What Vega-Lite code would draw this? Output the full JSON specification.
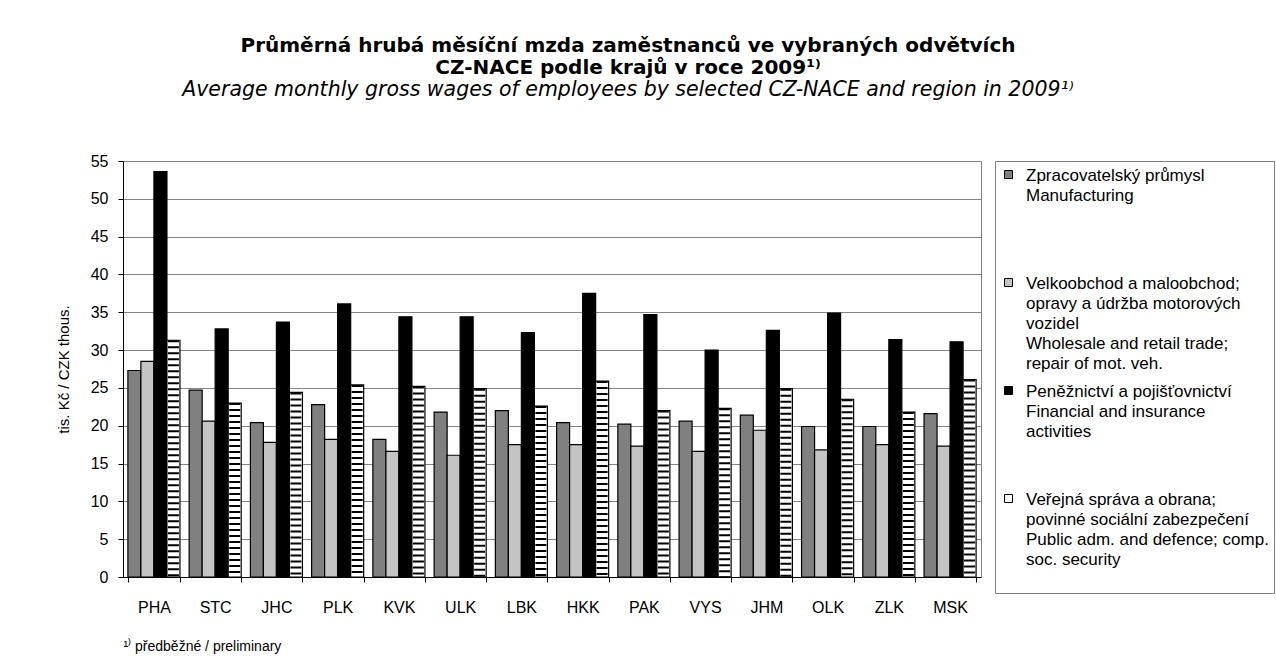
{
  "$schema": "https://vega.github.io/schema/vega-lite/v6.json",
  "width": 858,
  "height": 416,
  "autosize": "none",
  "padding": {"left": 123, "top": 161, "right": 295, "bottom": 80},
  "background": "white",
  "config": {
    "font": "Liberation Sans",
    "view": {"stroke": "#808080", "strokeWidth": 1}
  },
  "title": {
    "text": ["Průměrná hrubá měsíční mzda zaměstnanců ve vybraných odvětvích", "CZ-NACE podle krajů v roce 2009¹⁾"],
    "subtitle": "Average monthly gross wages of employees by selected CZ-NACE and region in 2009¹⁾",
    "anchor": "middle",
    "frame": "group",
    "dx": 76,
    "offset": 53,
    "font": "DejaVu Sans",
    "fontSize": 20,
    "fontWeight": "bold",
    "lineHeight": 22,
    "color": "black",
    "subtitleFont": "DejaVu Sans",
    "subtitleFontSize": 20.5,
    "subtitleFontStyle": "italic",
    "subtitleColor": "black",
    "subtitlePadding": 2,
    "subtitleLineHeight": 21
  },
  "data": {
    "values": [
      {"region": "PHA", "sector": "M", "value": 27.3}, {"region": "PHA", "sector": "W", "value": 28.5}, {"region": "PHA", "sector": "F", "value": 53.6}, {"region": "PHA", "sector": "P", "value": 31.3},
      {"region": "STC", "sector": "M", "value": 24.7}, {"region": "STC", "sector": "W", "value": 20.6}, {"region": "STC", "sector": "F", "value": 32.8}, {"region": "STC", "sector": "P", "value": 23.0},
      {"region": "JHC", "sector": "M", "value": 20.4}, {"region": "JHC", "sector": "W", "value": 17.8}, {"region": "JHC", "sector": "F", "value": 33.7}, {"region": "JHC", "sector": "P", "value": 24.4},
      {"region": "PLK", "sector": "M", "value": 22.8}, {"region": "PLK", "sector": "W", "value": 18.2}, {"region": "PLK", "sector": "F", "value": 36.1}, {"region": "PLK", "sector": "P", "value": 25.4},
      {"region": "KVK", "sector": "M", "value": 18.2}, {"region": "KVK", "sector": "W", "value": 16.6}, {"region": "KVK", "sector": "F", "value": 34.4}, {"region": "KVK", "sector": "P", "value": 25.2},
      {"region": "ULK", "sector": "M", "value": 21.8}, {"region": "ULK", "sector": "W", "value": 16.1}, {"region": "ULK", "sector": "F", "value": 34.4}, {"region": "ULK", "sector": "P", "value": 24.9},
      {"region": "LBK", "sector": "M", "value": 22.0}, {"region": "LBK", "sector": "W", "value": 17.5}, {"region": "LBK", "sector": "F", "value": 32.3}, {"region": "LBK", "sector": "P", "value": 22.6},
      {"region": "HKK", "sector": "M", "value": 20.4}, {"region": "HKK", "sector": "W", "value": 17.5}, {"region": "HKK", "sector": "F", "value": 37.5}, {"region": "HKK", "sector": "P", "value": 25.9},
      {"region": "PAK", "sector": "M", "value": 20.2}, {"region": "PAK", "sector": "W", "value": 17.3}, {"region": "PAK", "sector": "F", "value": 34.7}, {"region": "PAK", "sector": "P", "value": 22.0},
      {"region": "VYS", "sector": "M", "value": 20.6}, {"region": "VYS", "sector": "W", "value": 16.6}, {"region": "VYS", "sector": "F", "value": 30.0}, {"region": "VYS", "sector": "P", "value": 22.3},
      {"region": "JHM", "sector": "M", "value": 21.4}, {"region": "JHM", "sector": "W", "value": 19.4}, {"region": "JHM", "sector": "F", "value": 32.6}, {"region": "JHM", "sector": "P", "value": 24.9},
      {"region": "OLK", "sector": "M", "value": 19.9}, {"region": "OLK", "sector": "W", "value": 16.8}, {"region": "OLK", "sector": "F", "value": 34.9}, {"region": "OLK", "sector": "P", "value": 23.5},
      {"region": "ZLK", "sector": "M", "value": 19.9}, {"region": "ZLK", "sector": "W", "value": 17.5}, {"region": "ZLK", "sector": "F", "value": 31.4}, {"region": "ZLK", "sector": "P", "value": 21.8},
      {"region": "MSK", "sector": "M", "value": 21.6}, {"region": "MSK", "sector": "W", "value": 17.3}, {"region": "MSK", "sector": "F", "value": 31.1}, {"region": "MSK", "sector": "P", "value": 26.1}
    ]
  },
  "encoding": {
    "x": {
      "field": "region",
      "type": "nominal",
      "sort": null,
      "scale": {"paddingInner": 0.15, "paddingOuter": 0.08},
      "axis": {
        "title": "¹⁾ předběžné / preliminary",
        "titleAnchor": "start",
        "titleFontSize": 14,
        "titleFontWeight": "normal",
        "titleColor": "black",
        "titlePadding": 24,
        "labelAngle": 0,
        "labelFontSize": 16,
        "labelColor": "black",
        "labelPadding": 17,
        "domainColor": "black",
        "tickColor": "black",
        "tickSize": 5,
        "tickBand": "extent"
      }
    },
    "xOffset": {
      "field": "sector",
      "type": "nominal",
      "scale": {"domain": ["M", "W", "F", "P"], "paddingInner": 0, "paddingOuter": 0}
    },
    "y": {
      "field": "value",
      "type": "quantitative",
      "scale": {"domain": [0, 55], "nice": false},
      "axis": {
        "values": [0, 5, 10, 15, 20, 25, 30, 35, 40, 45, 50, 55],
        "title": "tis. Kč / CZK thous.",
        "titleFontSize": 15,
        "titleFontWeight": "normal",
        "titleColor": "black",
        "titlePadding": 19,
        "labelFontSize": 16,
        "labelColor": "black",
        "labelPadding": 10,
        "domainColor": "black",
        "tickColor": "black",
        "tickSize": 5,
        "gridColor": "#868686",
        "gridWidth": 1
      }
    }
  },
  "layer": [
    {
      "mark": {"type": "bar", "stroke": "black", "strokeWidth": 1.2},
      "encoding": {
        "fill": {
          "field": "sector",
          "type": "nominal",
          "scale": {"domain": ["M", "W", "F", "P"], "range": ["#808080", "#c4c4c4", "#000000", "#ffffff"]},
          "legend": {
            "title": null,
            "orient": "right",
            "offset": 14,
            "strokeColor": "#808080",
            "padding": 5,
            "rowPadding": 10,
            "labelFont": "Liberation Sans",
            "labelFontSize": 17,
            "labelColor": "black",
            "labelLimit": 400,
            "labelOffset": 9,
            "labelBaseline": "top",
            "symbolType": "square",
            "symbolSize": 64,
            "symbolStrokeColor": "black",
            "symbolStrokeWidth": 1,
            "labelExpr": "datum.label == 'M' ? ['Zpracovatelský průmysl', 'Manufacturing', '', '', ''] : datum.label == 'W' ? ['Velkoobchod a maloobchod;', 'opravy a údržba motorových', 'vozidel', 'Wholesale and retail trade;', 'repair of mot. veh.'] : datum.label == 'F' ? ['Peněžnictví a pojišťovnictví', 'Financial and insurance', 'activities', '', ''] : ['Veřejná správa a obrana;', 'povinné sociální zabezpečení', 'Public adm. and defence; comp.', 'soc. security', '']",
            "encode": {
              "labels": {
                "update": {
                  "dy": {"value": -7},
                  "lineHeight": {"value": 20}
                }
              }
            }
          }
        }
      }
    },
    {
      "transform": [{"filter": "datum.sector == 'P'"}],
      "mark": {"type": "rule", "color": "black", "strokeWidth": 11, "strokeDash": [2, 4]},
      "encoding": {
        "y2": {"datum": 0}
      }
    }
  ]
}
